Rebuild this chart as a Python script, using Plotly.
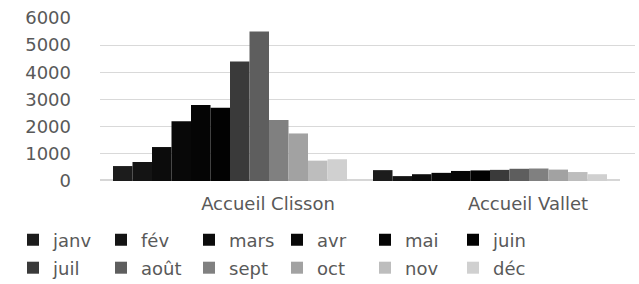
import plotly.graph_objects as go

categories = ["Accueil Clisson", "Accueil Vallet"]
months = ["janv", "fév", "mars", "avr", "mai", "juin",
          "juil", "août", "sept", "oct", "nov", "déc"]
clisson = [550, 700, 1250, 2200, 2800, 2700, 4400, 5500, 2250, 1750, 750, 800]
vallet = [400, 180, 250, 300, 370, 390, 410, 450, 460, 420, 330, 250]
colors = ["#1c1c1c", "#141414", "#0c0c0c", "#080808", "#050505", "#020202",
          "#3a3a3a", "#5e5e5e", "#808080", "#a2a2a2", "#bdbdbd", "#d0d0d0"]
y_ticks = [0, 1000, 2000, 3000, 4000, 5000, 6000]

FONT = "DejaVu Sans"
TXT = "#595959"

fig = go.Figure()
for i, m in enumerate(months):
    fig.add_trace(go.Bar(
        name=m, x=categories, y=[clisson[i], vallet[i]],
        marker=dict(color=colors[i], line=dict(width=0)),
        legend="legend" if i < 6 else "legend2",
    ))

PLOT_L, PLOT_R, PLOT_T, PLOT_B = 100, 635, 18, 181
pw, ph = PLOT_R - PLOT_L, PLOT_B - PLOT_T
leg_x = (13 - PLOT_L) / pw

leg_common = dict(
    orientation="h", xref="paper", yref="paper",
    xanchor="left", yanchor="middle",
    entrywidth=43, entrywidthmode="pixels",
    font=dict(family=FONT, size=18, color=TXT),
    itemwidth=30, bgcolor="rgba(0,0,0,0)",
)

fig.update_layout(
    width=639, height=284,
    margin=dict(l=PLOT_L, r=639 - PLOT_R, t=PLOT_T, b=284 - PLOT_B,
                autoexpand=False),
    paper_bgcolor="white", plot_bgcolor="white",
    barmode="group", bargap=0.1, bargroupgap=0,
    font=dict(family=FONT, size=18, color=TXT),
    showlegend=True,
    legend=dict(x=leg_x, y=(PLOT_B - 240) / ph, **leg_common),
    legend2=dict(x=leg_x, y=(PLOT_B - 268) / ph, **leg_common),
    xaxis=dict(
        range=[-0.5, -0.5 + pw / 260], showgrid=False, zeroline=False,
        automargin=False,
        showline=False,
        ticks="", ticklabelshift=38, ticklabelstandoff=10,
        tickfont=dict(family=FONT, size=18, color=TXT),
    ),
    yaxis=dict(
        range=[0, 6000], tickvals=y_ticks, automargin=False,
        showgrid=True, gridcolor="#d9d9d9", gridwidth=1,
        zeroline=False, showline=False, ticks="",
        ticklabelstandoff=28,
        tickfont=dict(family=FONT, size=18, color=TXT),
    ),
    shapes=[dict(type="line", xref="x", yref="y", x0=-0.54, x1=1.5,
                 y0=0, y1=0, line=dict(color="#d6d6d6", width=4),
                 layer="below")],
)

fig.write_html("out.html", config={"displayModeBar": False},
               post_script="document.body.style.margin='0';")
